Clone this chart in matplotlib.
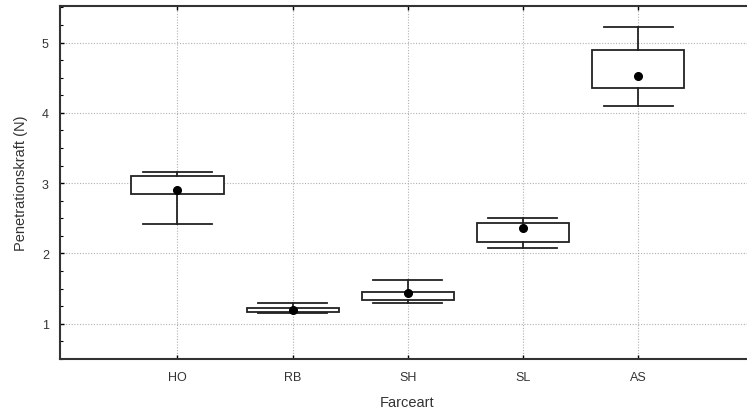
import matplotlib.pyplot as plt
from matplotlib.ticker import MultipleLocator

plt.rcParams['font.family'] = ['Liberation Sans', 'DejaVu Sans']

# Box statistics
categories = ['HO', 'RB', 'SH', 'SL', 'AS']
whisker_low = [2.42, 1.16, 1.29, 2.08, 4.10]
box_low = [2.84, 1.17, 1.34, 2.17, 4.35]
means = [2.91, 1.20, 1.44, 2.36, 4.52]
box_high = [3.10, 1.23, 1.455, 2.44, 4.90]
whisker_high = [3.16, 1.29, 1.625, 2.51, 5.22]

stats = []
for i, name in enumerate(categories):
    stats.append({'label': name, 'whislo': whisker_low[i], 'q1': box_low[i],
                  'med': means[i], 'q3': box_high[i], 'whishi': whisker_high[i],
                  'mean': means[i], 'fliers': []})

fig = plt.figure(figsize=(7.47, 4.10), dpi=100)
ax = fig.add_axes([0.0803, 0.122, 0.928, 0.861])

positions = list(range(1, len(categories) + 1))
edge = '#222222'
ax.bxp(stats, positions=positions, widths=0.8, capwidths=0.6,
       showmeans=True, patch_artist=True,
       boxprops=dict(facecolor='white', edgecolor=edge, linewidth=1.3),
       whiskerprops=dict(color=edge, linewidth=1.3),
       capprops=dict(color=edge, linewidth=1.3),
       medianprops=dict(linewidth=0),
       meanprops=dict(marker='o', markerfacecolor='black', markeredgecolor='black', markersize=5.5))

ax.set_xlim(-0.02, 6)
ax.set_ylim(0.5, 5.52)
ax.set_xticks(positions)
ax.set_xticklabels(categories)
ax.set_yticks([1, 2, 3, 4, 5])
ax.yaxis.set_minor_locator(MultipleLocator(0.25))

ax.grid(True, which='major', linestyle=(0, (1, 1.5)), color='#b0b0b0', linewidth=0.8)
ax.set_axisbelow(True)

ax.tick_params(axis='both', which='major', direction='in', length=3, width=1,
               labelsize=9, top=True, labelcolor='#333333')
ax.tick_params(axis='y', which='minor', direction='in', length=2, width=0.8)
ax.tick_params(axis='x', pad=9)
ax.tick_params(axis='y', pad=8)
for s in ax.spines.values():
    s.set_linewidth(1.5)
    s.set_color('#333333')

ax.set_xlabel('Farceart', fontsize=10.5, labelpad=8, color='#333333')
ax.set_ylabel('Penetrationskraft (N)', fontsize=10.5, labelpad=10, color='#333333')

fig.savefig('out.png', dpi=100)
